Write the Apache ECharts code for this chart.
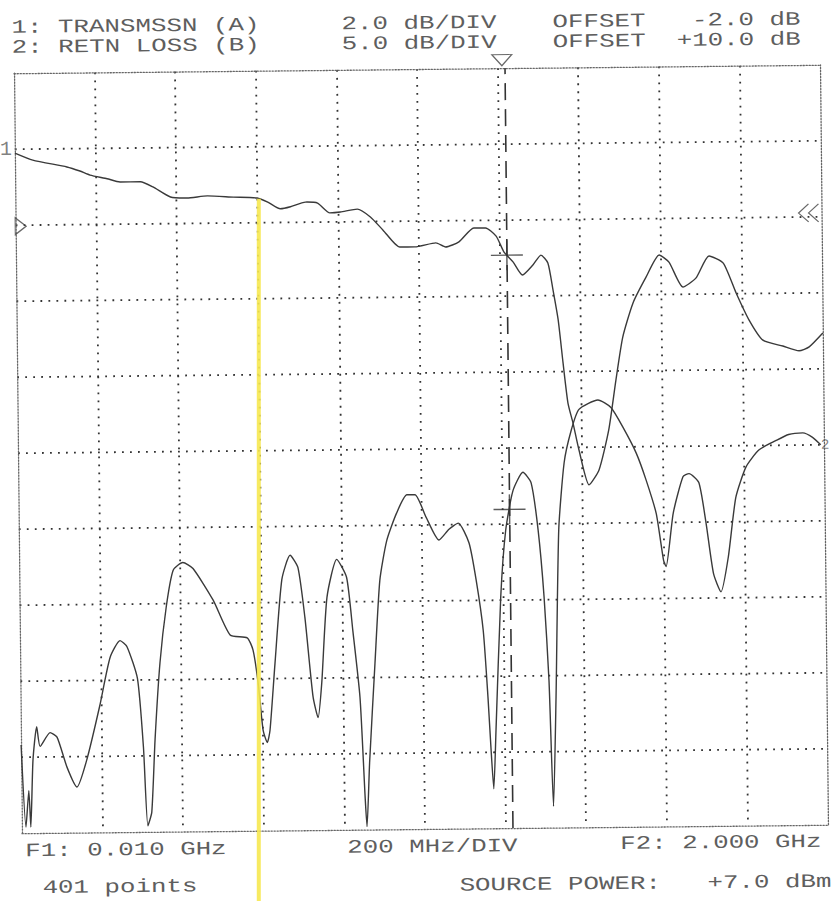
<!DOCTYPE html>
<html><head><meta charset="utf-8">
<script src="https://cdn.jsdelivr.net/npm/echarts@6/dist/echarts.min.js"></script>
<style>
html,body{margin:0;padding:0;background:#fff;overflow:hidden;width:832px;height:901px;}
#c{position:absolute;left:0;top:0;width:832px;height:901px;transform:rotate(-0.6deg);transform-origin:423px 449px;}
</style></head><body><div id="c"></div>
<script>
// ---- data ----
const F1 = 0.010, F2 = 2.000;            // GHz, start / stop
const DIVS = 10;
// Trace 1: transmission (dB), 2 dB/div
const t1Freq = [0.010,0.054,0.138,0.170,0.195,0.237,0.269,0.319,0.350,0.393,0.434,0.484,0.548,0.607,0.633,0.664,0.689,0.726,0.756,0.786,0.812,0.854,0.886,0.917,0.958,0.995,1.047,1.071,1.104,1.141,1.170,1.196,1.215,1.237,1.260,1.286,1.306,1.323,1.335,1.347,1.358,1.369,1.381,1.395,1.419,1.444,1.469,1.488,1.506,1.532,1.565,1.598,1.622,1.656,1.688,1.721,1.756,1.787,1.818,1.852,1.901,1.941,1.966,2.000];
const t1Db = [-2.10,-2.29,-2.48,-2.59,-2.70,-2.80,-2.89,-2.89,-3.03,-3.30,-3.33,-3.28,-3.32,-3.35,-3.46,-3.64,-3.59,-3.47,-3.50,-3.76,-3.74,-3.67,-3.88,-4.23,-4.68,-4.68,-4.58,-4.69,-4.56,-4.20,-4.20,-4.42,-4.84,-5.10,-5.45,-5.19,-4.93,-5.14,-5.85,-6.64,-7.78,-8.83,-9.36,-10.07,-10.99,-10.60,-9.55,-8.24,-7.11,-6.22,-5.54,-4.96,-5.15,-5.81,-5.58,-5.00,-5.19,-5.98,-6.69,-7.23,-7.39,-7.52,-7.42,-7.06];
// Trace 2: return loss (dB), 5 dB/div
const t2Freq = [0.010,0.020,0.028,0.032,0.039,0.049,0.057,0.082,0.099,0.123,0.147,0.172,0.205,0.232,0.257,0.274,0.299,0.312,0.321,0.331,0.341,0.355,0.372,0.390,0.414,0.439,0.488,0.529,0.571,0.585,0.597,0.608,0.618,0.625,0.639,0.658,0.679,0.698,0.714,0.732,0.744,0.754,0.769,0.794,0.818,0.832,0.848,0.858,0.862,0.870,0.886,0.900,0.918,0.943,0.969,0.989,1.016,1.047,1.072,1.095,1.121,1.138,1.154,1.164,1.170,1.176,1.183,1.198,1.212,1.231,1.256,1.276,1.292,1.305,1.315,1.323,1.332,1.343,1.358,1.376,1.396,1.443,1.475,1.504,1.536,1.560,1.584,1.601,1.607,1.626,1.651,1.666,1.690,1.707,1.724,1.742,1.761,1.781,1.807,1.839,1.881,1.913,1.948,1.972,1.992];
const t2Db = [-34.2,-39.6,-37.2,-39.6,-35.2,-33.0,-34.3,-33.4,-33.7,-35.7,-37.0,-35.2,-31.7,-28.5,-27.4,-27.8,-29.9,-34.4,-39.6,-38.7,-33.9,-28.9,-25.2,-22.8,-22.3,-22.7,-24.8,-27.1,-27.3,-28.1,-30.3,-33.4,-34.2,-33.4,-29.0,-23.5,-21.9,-22.7,-26.0,-31.2,-32.6,-30.3,-24.7,-22.2,-23.4,-26.9,-31.3,-37.8,-39.8,-35.6,-29.0,-23.6,-21.0,-19.2,-18.0,-18.0,-19.5,-21.0,-20.3,-19.9,-21.2,-23.7,-27.0,-31.4,-34.7,-37.4,-33.5,-24.8,-20.4,-17.8,-16.6,-17.3,-20.4,-24.8,-30.3,-38.6,-31.4,-20.4,-16.0,-13.9,-12.5,-11.9,-12.4,-13.7,-15.4,-17.2,-19.4,-22.5,-22.9,-19.4,-17.0,-16.8,-17.4,-20.1,-23.4,-24.6,-22.3,-18.4,-16.4,-15.3,-14.7,-14.3,-14.2,-14.5,-15.0];
const t1Range = [-20, 0], t1Step = 2;     // dB
const t2Range = [-40, 10], t2Step = 5;    // dB
const t1Ref = -2;                          // reference marker "1"
const t2Ref = -15;                         // reference marker "2"
const sideRef = -4;                        // side markers level (trace 1 scale)
const markerFreq = 1.222;                  // GHz, active marker
const highlightFreq = 0.611;               // GHz, yellow highlighter stroke
const headerTexts = ['1: TRANSMSSN (A)', '2.0 dB/DIV', 'OFFSET   -2.0 dB', '2: RETN LOSS (B)', '5.0 dB/DIV', 'OFFSET  +10.0 dB'];
const footerTexts = ['F1: 0.010 GHz', '200 MHz/DIV', 'F2: 2.000 GHz', '401 points', 'SOURCE POWER:   +7.0 dBm'];

// ---- helpers ----
const toDiv = f => (f - F1) / (F2 - F1) * DIVS;
function interp(xs, ys, x) {
  for (let i = 1; i < xs.length; i++) {
    if (x <= xs[i]) { const t = (x - xs[i-1]) / (xs[i] - xs[i-1]); return ys[i-1] + t * (ys[i] - ys[i-1]); }
  }
  return ys[ys.length - 1];
}
const FONT = '"Liberation Mono", "DejaVu Sans Mono", monospace';
const TXT = '#5e5e5e';
const GRID = { left: 18, top: 69, width: 806, height: 760 };
const borderLine = { show: true, onZero: false, lineStyle: { color: '#666', width: 1.3, type: [1.3, 1.7] } };
const dotLine = { show: true, showMinLine: false, showMaxLine: false, lineStyle: { color: '#333', width: 1.8, type: [1.8, 6.2] } };
const noAxisBits = { axisTick: { show: false }, axisLabel: { show: false } };

const chart = echarts.init(document.getElementById('c'), null, { renderer: 'svg' });

const txtPos = [[16, 23.5], [346, 23.5], [557, 23.5], [16, 43.5], [346, 43.5], [557, 43.5]];
const ftPos = [[21, 847], [343, 847], [616, 846], [38, 884], [455, 886]];
const mkText = (s, p) => ({ type: 'text', x: p[0], y: p[1], scaleX: 1.36, silent: true,
  style: { text: s, font: '19px ' + FONT, fill: TXT, textVerticalAlign: 'middle', verticalAlign: 'middle' } });

const trace = (xs, ys, yIdx) => ({
  type: 'line', xAxisIndex: 0, yAxisIndex: yIdx, symbol: 'none', smooth: 0.2, silent: true,
  lineStyle: { color: '#3a3a3a', width: 1.4 }, clip: true,
  data: xs.map((f, i) => [toDiv(f), ys[i]])
});
const mDiv = toDiv(markerFreq);
const cross = 'path://M0,10 L20,10 M10,3 L10,17';
const hollow = { color: 'rgba(0,0,0,0)', borderColor: '#444', borderWidth: 1.2 };

chart.setOption({
  animation: false,
  backgroundColor: '#fff',
  grid: Object.assign({ show: false }, GRID),
  xAxis: [
    Object.assign({ type: 'value', min: 0, max: DIVS, interval: 1, position: 'bottom', axisLine: borderLine, splitLine: dotLine }, noAxisBits),
    Object.assign({ type: 'value', min: 0, max: DIVS, interval: 1, position: 'top', axisLine: borderLine, splitLine: { show: false } }, noAxisBits)
  ],
  yAxis: [
    Object.assign({ type: 'value', min: t1Range[0], max: t1Range[1], interval: t1Step, position: 'left', axisLine: borderLine, splitLine: dotLine }, noAxisBits),
    Object.assign({ type: 'value', min: t2Range[0], max: t2Range[1], interval: t2Step, position: 'right', axisLine: borderLine, splitLine: { show: false } }, noAxisBits)
  ],
  series: [
    Object.assign(trace(t1Freq, t1Db, 0), {
      markLine: { silent: true, symbol: 'none', label: { show: false },
        lineStyle: { color: '#333', width: 1.6, type: [17, 9] }, data: [{ xAxis: mDiv }] }
    }),
    trace(t2Freq, t2Db, 1),
    { type: 'scatter', xAxisIndex: 0, yAxisIndex: 0, silent: true, symbol: cross, symbolSize: [32, 30],
      itemStyle: { color: 'rgba(0,0,0,0)', borderColor: '#333', borderWidth: 1.4 },
      data: [[mDiv, interp(t1Freq, t1Db, markerFreq)]] },
    { type: 'scatter', xAxisIndex: 0, yAxisIndex: 1, silent: true, symbol: cross, symbolSize: [32, 30],
      itemStyle: { color: 'rgba(0,0,0,0)', borderColor: '#333', borderWidth: 1.4 },
      data: [[mDiv, interp(t2Freq, t2Db, markerFreq)]] },
    // top marker triangle
    { type: 'scatter', xAxisIndex: 0, yAxisIndex: 0, silent: true, symbol: 'path://M0,0 L10,0 L5,7 Z',
      symbolSize: [20, 11], symbolOffset: [-3, -8], itemStyle: hollow, data: [[mDiv, t1Range[1]]] },
    // left reference triangle
    { type: 'scatter', xAxisIndex: 0, yAxisIndex: 0, silent: true, symbol: 'path://M0,0 L10,6 L0,12 Z',
      symbolSize: [11, 17], symbolOffset: [5, 1], itemStyle: hollow, data: [[0, sideRef]] },
    // right double chevron
    { type: 'scatter', xAxisIndex: 0, yAxisIndex: 0, silent: true, symbol: 'path://M10,0 L0,8 L10,16 M20,0 L10,8 L20,16',
      symbolSize: [20, 18], symbolOffset: [-13, -4], itemStyle: hollow, data: [[DIVS, sideRef]] },
    // reference labels
    { type: 'scatter', xAxisIndex: 0, yAxisIndex: 0, silent: true, symbolSize: 0,
      label: { show: true, position: 'left', distance: 3, formatter: '1', fontFamily: FONT, fontSize: 20, color: TXT },
      data: [[0, t1Ref]] },
    { type: 'scatter', xAxisIndex: 0, yAxisIndex: 1, silent: true, symbolSize: 0,
      label: { show: true, position: 'right', distance: -3, formatter: '2', fontFamily: FONT, fontSize: 14, color: TXT },
      data: [[DIVS, t2Ref]] }
  ]
});

// header / footer texts and the yellow highlighter stroke (positioned through the chart's scales)
const p0 = chart.convertToPixel({ xAxisIndex: 0, yAxisIndex: 0 }, [toDiv(highlightFreq), interp(t1Freq, t1Db, highlightFreq)]);
const tilt = Math.tan(0.6 * Math.PI / 180);
const yEnd = 960;
const graphics = headerTexts.map((s, i) => mkText(s, txtPos[i])).concat(footerTexts.map((s, i) => mkText(s, ftPos[i])));
graphics.push({ type: 'line', silent: true, z: 50,
  shape: { x1: p0[0], y1: p0[1], x2: p0[0] - (yEnd - p0[1]) * tilt, y2: yEnd },
  style: { stroke: 'rgba(246,232,80,0.9)', lineWidth: 4 } });
chart.setOption({ graphic: graphics });
</script></body></html>
